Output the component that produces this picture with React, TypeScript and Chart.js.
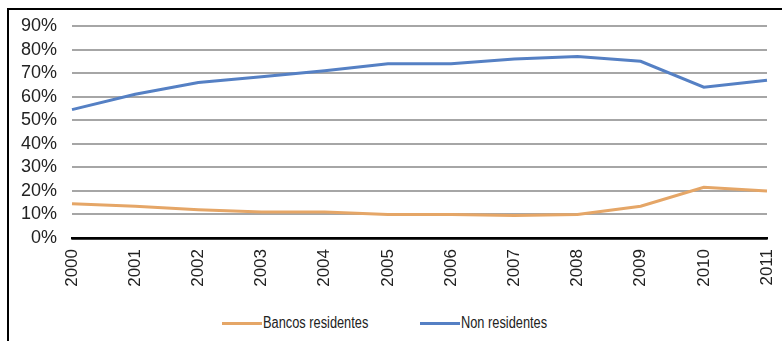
import React, { useEffect, useRef } from "react";
import { Chart, registerables } from "chart.js";

Chart.register(...registerables);

const years = ["2000", "2001", "2002", "2003", "2004", "2005", "2006", "2007", "2008", "2009", "2010", "2011"];
const bancosResidentes = [14.5, 13.5, 12, 11, 11, 10, 10, 9.5, 10, 13.5, 21.5, 20];
const nonResidentes = [54.5, 61, 66, 68.5, 71, 74, 74, 76, 77, 75, 64, 67];
const yTicks = [0, 10, 20, 30, 40, 50, 60, 70, 80, 90];
const seriesNames = ["Bancos residentes", "Non residentes"];
const seriesColors = ["#e5a667", "#5580c4"];

export default function App() {
  const ref = useRef<HTMLCanvasElement | null>(null);
  useEffect(() => {
    if (!ref.current) return;
    const chart = new Chart(ref.current, {
      type: "line",
      data: {
        labels: years,
        datasets: [
          { label: seriesNames[0], data: bancosResidentes, borderColor: seriesColors[0], backgroundColor: seriesColors[0], borderWidth: 3, pointRadius: 0, tension: 0 },
          { label: seriesNames[1], data: nonResidentes, borderColor: seriesColors[1], backgroundColor: seriesColors[1], borderWidth: 3, pointRadius: 0, tension: 0 },
        ],
      },
      options: {
        animation: false,
        responsive: false,
        maintainAspectRatio: false,
        layout: { padding: { left: 0, right: 15, top: 26, bottom: 0 } },
        plugins: { legend: { display: false }, tooltip: { enabled: false } },
        scales: {
          x: {
            grid: { display: false, drawTicks: false },
            border: { display: true, color: "#000", width: 2.5 },
            ticks: {
              autoSkip: false,
              minRotation: 90,
              maxRotation: 90,
              padding: 11,
              color: "#222",
              font: { family: "'Liberation Sans', Arial", size: 17 },
            },
            afterFit: (s: any) => { s.height = 62; s.paddingLeft = 0; s.paddingRight = 0; },
          },
          y: {
            min: 0,
            max: 90,
            afterBuildTicks: (s: any) => { s.ticks = yTicks.map((v) => ({ value: v })); },
            grid: {
              drawTicks: false,
              color: (c: any) => (c.tick && c.tick.value === 0 ? "#000" : "#a6a6a6"),
              lineWidth: (c: any) => (c.tick && c.tick.value === 0 ? 2.5 : 2),
            },
            border: { display: false },
            ticks: {
              autoSkip: false,
              padding: 15,
              color: "#222",
              font: { family: "'Liberation Sans', Arial", size: 18 },
              callback: (v: any) => v + "%",
            },
            afterFit: (s: any) => { s.width = 72; s.paddingTop = 0; s.paddingBottom = 0; },
          },
        },
      },
    });
    return () => chart.destroy();
  }, []);

  return (
    <div style={{ position: "absolute", left: 0, top: 0, width: 782, height: 341, overflow: "hidden", background: "#fff" }}>
      <div style={{ position: "absolute", left: 7, top: 8, width: 800, height: 400, border: "2px solid #000", boxSizing: "border-box" }} />
      <canvas ref={ref} width={782} height={300} style={{ position: "absolute", left: 0, top: 0, width: 782, height: 300 }} />
      {seriesNames.map((name, i) => (
        <div key={name} style={{ position: "absolute", left: i === 0 ? 222 : 420, top: 313, height: 20, display: "flex", alignItems: "center", fontFamily: "'Liberation Sans', Arial", fontSize: 16, color: "#222", whiteSpace: "nowrap" }}>
          <span style={{ display: "inline-block", width: 40, height: 3, background: seriesColors[i], marginRight: 1 }} />
          <span style={{ display: "inline-block", transform: "scaleX(0.8)", transformOrigin: "left center" }}>{name}</span>
        </div>
      ))}
    </div>
  );
}
